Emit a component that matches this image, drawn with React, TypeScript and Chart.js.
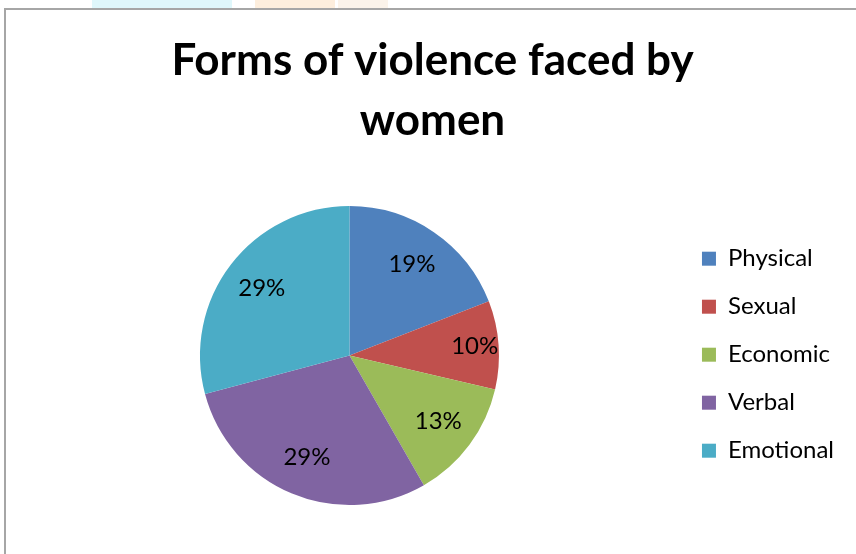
import React, { useEffect, useRef } from "react";
import { Chart, registerables } from "chart.js";

Chart.register(...registerables);

const categories = ["Physical", "Sexual", "Economic", "Verbal", "Emotional"];
const counts = [38, 19, 26, 58, 58];
const colors = ["#4F81BD", "#C0504D", "#9BBB59", "#8064A2", "#4BACC6"];
const titleLines = ["Forms of violence faced by", "women"];

const FONT = "Lato, 'Open Sans', sans-serif";

const pctLabelPlugin = {
  id: "pctLabels",
  afterDatasetsDraw(chart: any) {
    const ctx = chart.ctx;
    const meta = chart.getDatasetMeta(0);
    const data = chart.data.datasets[0].data as number[];
    const total = data.reduce((a, b) => a + b, 0);
    ctx.save();
    ctx.font = `24px ${FONT}`;
    ctx.fillStyle = "#000";
    ctx.textAlign = "center";
    ctx.textBaseline = "middle";
    meta.data.forEach((arc: any, i: number) => {
      const p = arc.getProps(["x", "y", "startAngle", "endAngle", "outerRadius"], true);
      const mid = (p.startAngle + p.endAngle) / 2;
      const pct = (data[i] / total) * 100;
      const f = pct < 11 ? 0.84 : 0.74;
      const r = p.outerRadius * f;
      ctx.fillText(Math.round(pct) + "%", p.x + Math.cos(mid) * r, p.y + Math.sin(mid) * r);
    });
    ctx.restore();
  },
};

export default function App() {
  const ref = useRef<HTMLCanvasElement | null>(null);
  useEffect(() => {
    if (!ref.current) return;
    const chart = new Chart(ref.current, {
      type: "pie",
      data: {
        labels: categories,
        datasets: [
          {
            data: counts,
            backgroundColor: colors,
            borderWidth: 0,
          },
        ],
      },
      options: {
        responsive: false,
        animation: false,
        layout: { padding: { left: 15, right: 22, top: 0, bottom: 49 } },
        plugins: {
          tooltip: { enabled: false },
          title: {
            display: true,
            text: titleLines,
            color: "#000",
            font: { family: FONT, size: 44, weight: "bold", lineHeight: 1.364 },
            padding: { top: 31, bottom: 55 },
          },
          legend: {
            position: "right",
            title: { display: true, text: "", font: { size: 12, lineHeight: 1.2 }, padding: { top: 190, bottom: 0 } },
            labels: {
              color: "#000",
              font: { family: FONT, size: 24 },
              boxWidth: 14,
              boxHeight: 14,
              padding: 24,
            },
          },
        },
      },
      plugins: [pctLabelPlugin],
    });
    return () => chart.destroy();
  }, []);

  return (
    <div style={{ position: "fixed", left: 0, top: 0, width: 856, height: 554, background: "#fff", overflow: "hidden" }}>
      <div style={{ position: "absolute", left: 92, top: 0, width: 140, height: 8, background: "#dff7fb" }} />
      <div style={{ position: "absolute", left: 255, top: 0, width: 80, height: 8, background: "#fdeedd" }} />
      <div style={{ position: "absolute", left: 338, top: 0, width: 50, height: 8, background: "#fbf3ea" }} />
      <div
        style={{
          position: "absolute",
          left: 4,
          top: 8,
          width: 880,
          height: 600,
          border: "2px solid #a6a6a6",
          background: "#fff",
        }}
      />
      <canvas ref={ref} width={860} height={554} style={{ position: "absolute", left: 6, top: 0 }} />
    </div>
  );
}
